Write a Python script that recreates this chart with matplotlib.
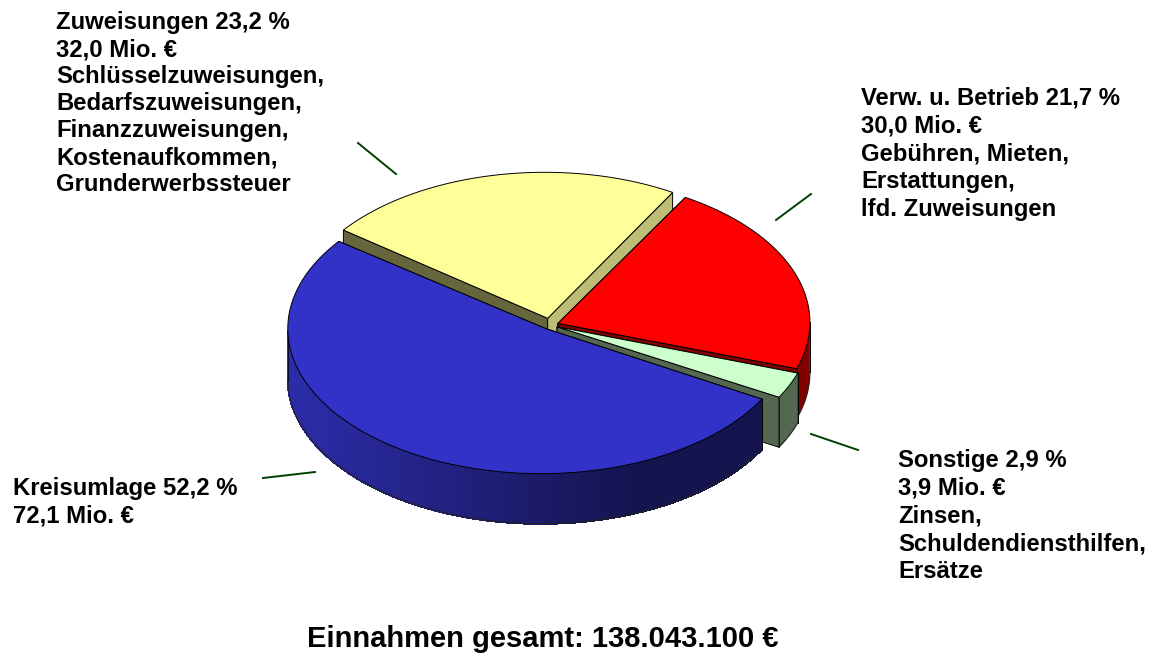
import matplotlib
matplotlib.use('Agg')
import matplotlib.pyplot as plt
import numpy as np
from matplotlib.patches import Polygon

plt.rcParams['font.family'] = ['Liberation Sans', 'DejaVu Sans']

###Daten
categories = ['Kreisumlage', 'Sonstige', 'Verw. u. Betrieb', 'Zuweisungen']
shares = [52.2, 2.9, 21.7, 23.2]
label_kreis = ['Kreisumlage 52,2 %', '72,1 Mio. €']
label_sonst = ['Sonstige 2,9 %', '3,9 Mio. €', 'Zinsen,', 'Schuldendiensthilfen,', 'Ersätze']
label_verw = ['Verw. u. Betrieb 21,7 %', '30,0 Mio. €', 'Gebühren, Mieten,', 'Erstattungen,', 'lfd. Zuweisungen']
label_zuw = ['Zuweisungen 23,2 %', '32,0 Mio. €', 'Schlüsselzuweisungen,', 'Bedarfszuweisungen,',
             'Finanzzuweisungen,', 'Kostenaufkommen,', 'Grunderwerbssteuer']
title_text = 'Einnahmen gesamt: 138.043.100 €'

###Aussehen
top_colors = ['#3232C8', '#CCFFCC', '#FF0000', '#FFFF99']
side_colors = ['#1E1E78', '#54684F', '#800000', '#66663D']
cut_colors = ['#1E1E78', '#54684F', '#800000', '#BDBD75']
explode = [0.03, 0.03, 0.033, 0.047]
radius_x = [253, 254, 253, 252]
radius_y = 145
# Perspektive: Ellipsenmitte liegt nicht genau auf der Spitze
shift_x = [-5, 0, -1, -3]
shift_y = [0, 0, -1, -1]
depth = 50
cx, cy = 550, 325
start_angle = 143

fig = plt.figure(figsize=(11.58, 6.57), dpi=100)
ax = fig.add_axes([0, 0, 1, 1])
ax.set_xlim(0, 1158)
ax.set_ylim(657, 0)
ax.axis('off')

spans = np.array(shares) / sum(shares) * 360
starts = start_angle + np.concatenate([[0], np.cumsum(spans)[:-1]])


def blue_shade(x):
    # Seitenflaeche Kreisumlage wird nach rechts dunkler
    t = np.clip((x - 289) / (640 - 289), 0, 1)
    c0 = np.array([44, 44, 170]) / 255
    c1 = np.array([20, 20, 78]) / 255
    return tuple(c0 + (c1 - c0) * t)


def draw_wedge(i, z):
    a0, a1 = starts[i], starts[i] + spans[i]
    mid = np.radians((a0 + a1) / 2)
    rx = radius_x[i]
    ax0 = cx + explode[i] * 256 * np.cos(mid)
    ay0 = cy - explode[i] * radius_y * np.sin(mid)
    t = np.radians(np.linspace(a0, a1, 240))
    xs = ax0 + shift_x[i] + rx * np.cos(t)
    ys = ay0 + shift_y[i] - radius_y * np.sin(t)

    # Schnittflaechen, die hintere zuerst
    for k in (-1, 0):
        pts = [(ax0, ay0), (xs[k], ys[k]), (xs[k], ys[k] + depth), (ax0, ay0 + depth)]
        ax.add_patch(Polygon(pts, closed=True, facecolor=cut_colors[i] if k == 0 else side_colors[i],
                             edgecolor='black', lw=0.7, zorder=z))

    # Aussenseite, nur der vordere Teil ist sichtbar
    front = np.sin(t) <= 0
    if front.any():
        fx, fy = xs[front], ys[front]
        if i == 0:
            for j in range(len(fx) - 1):
                pts = [(fx[j], fy[j]), (fx[j + 1], fy[j + 1]), (fx[j + 1], fy[j + 1] + depth), (fx[j], fy[j] + depth)]
                c = blue_shade(fx[j])
                ax.add_patch(Polygon(pts, closed=True, facecolor=c, edgecolor=c, lw=1, antialiased=False, zorder=z + 0.1))
        else:
            pts = np.r_[np.c_[fx, fy], np.c_[fx[::-1], fy[::-1] + depth]]
            ax.add_patch(Polygon(pts, closed=True, facecolor=side_colors[i], edgecolor='none', zorder=z + 0.1))
        ax.plot(fx, fy + depth, color='#222222', lw=0.8, zorder=z + 0.2)
        ax.plot([fx[0], fx[0]], [fy[0], fy[0] + depth], color='black', lw=0.5, zorder=z + 0.2)
        ax.plot([fx[-1], fx[-1]], [fy[-1], fy[-1] + depth], color='black', lw=0.7, zorder=z + 0.2)

    # Deckflaeche
    pts = np.r_[[(ax0, ay0)], np.c_[xs, ys]]
    ax.add_patch(Polygon(pts, closed=True, facecolor=top_colors[i], edgecolor='black', lw=0.7, zorder=z + 0.3))


for i, z in zip([3, 2, 1, 0], [1, 2, 3, 4]):
    draw_wedge(i, z)

###Fuehrungslinien
leaders = [((263, 478), (315, 472)), ((811, 434), (858, 450)), ((776, 220), (811, 194)), ((358, 143), (396, 174))]
for p, q in leaders:
    ax.plot([p[0], q[0]], [p[1], q[1]], color='#004000', lw=1.4, zorder=6)


###Beschriftung
def put_label(lines, x, y, pitch):
    for n, s in enumerate(lines):
        ax.text(x, y + n * pitch, s, fontsize=17.2, fontweight='bold', color='black', va='baseline', ha='left')


put_label(label_kreis, 13, 495, 27.8)
put_label(label_sonst, 898, 467, 27.8)
put_label(label_verw, 861, 105, 27.8)
put_label(label_zuw, 56, 29, 27)
ax.text(543, 647, title_text, fontsize=21, fontweight='bold', color='black', va='baseline', ha='center')

plt.savefig('out.png', dpi=100)
